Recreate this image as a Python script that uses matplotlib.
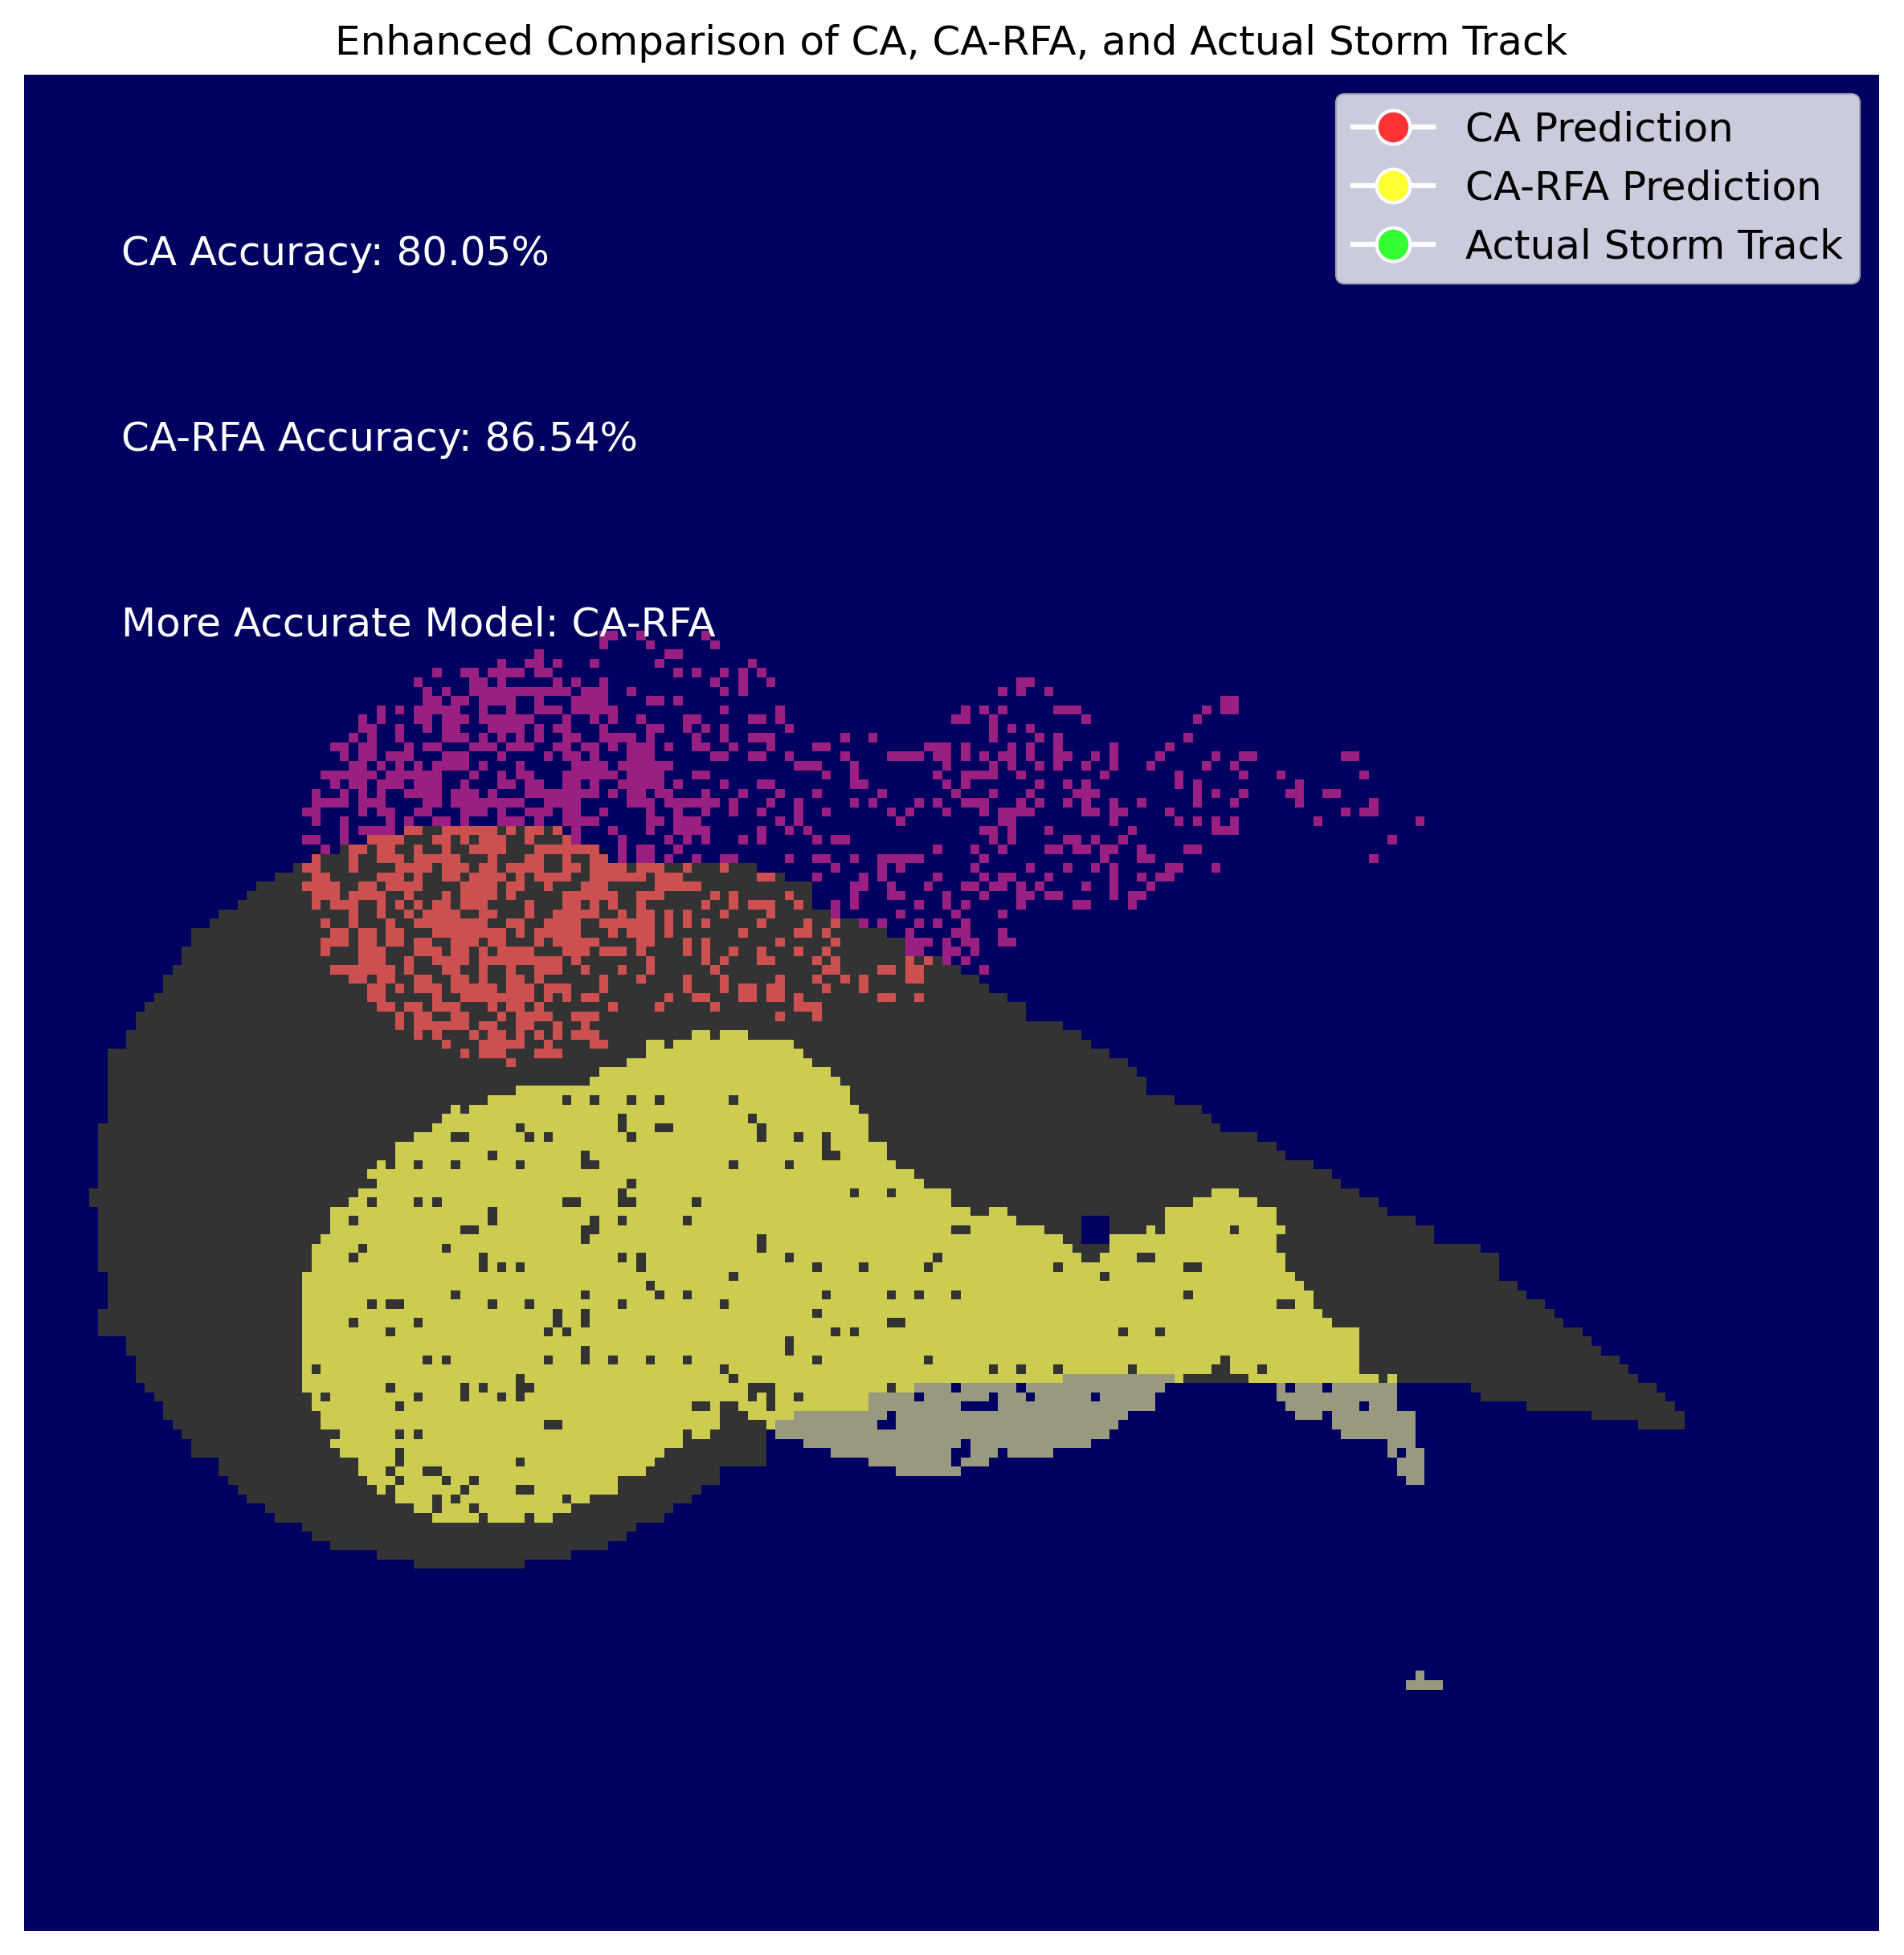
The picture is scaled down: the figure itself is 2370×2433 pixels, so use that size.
import numpy as np
import matplotlib
matplotlib.use("Agg")
import matplotlib.pyplot as plt
from matplotlib.colors import ListedColormap
from matplotlib.lines import Line2D

# grid size and class colours (navy, storm, CA over storm, RFA over storm, RFA only, CA only)
grid_size = 200
class_colors = ["#000060", "#333333", "#CC5050", "#CCCC50", "#999980", "#991F80"]

accuracy_labels = ["CA Accuracy: 80.05%", "CA-RFA Accuracy: 86.54%", "More Accurate Model: CA-RFA"]
legend_labels = ["CA Prediction", "CA-RFA Prediction", "Actual Storm Track"]
legend_colors = ["#FF3333", "#FFFF33", "#33FF33"]

# every dict below is row -> cells, a cell is a column or an inclusive (start, end) pair
storm_cells = {
    81: [(41, 57)], 82: [(37, 58)], 83: [(34, 61)], 84: [(31, 62)], 85: [(29, 78)], 86: [(27, 81)],
    87: [(25, 84)], 88: [(24, 84)], 89: [(23, 84)], 90: [(21, 86)], 91: [(20, 89)], 92: [(18, 92)],
    93: [(18, 94)], 94: [(17, 94)], 95: [(17, 98)], 96: [(16, 100)], 97: [(15, 102)], 98: [(15, 103)],
    99: [(14, 105)], 100: [(13, 107)], 101: [(12, 107)], 102: [(12, 111)], 103: [(11, 113)],
    104: [(11, 114)], 105: [(9, 116)], 106: [(9, 118)], 107: [(9, 119)], 108: [(9, 120)],
    109: [(9, 120)], 110: [(9, 123)], 111: [(9, 126)], 112: [(9, 127)], 113: [(8, 128)],
    114: [(8, 132)], 115: [(8, 134)], 116: [(8, 135)], 117: [(8, 138)], 118: [(8, 140)],
    119: [(8, 141)], 120: [(7, 143)], 121: [(7, 145)], 122: [(8, 146)], 123: [(8, 113), (117, 149)],
    124: [(8, 113), (117, 151)], 125: [(8, 113), (117, 151)], 126: [(8, 156)], 127: [(8, 158)],
    128: [(8, 158)], 129: [(9, 158)], 130: [(9, 160)], 131: [(9, 161)], 132: [(9, 163)],
    133: [(8, 164)], 134: [(8, 165)], 135: [(8, 167)], 136: [(11, 168)], 137: [(11, 169)],
    138: [(12, 171)], 139: [(12, 172)], 140: [(12, 173)], 141: [(13, 80), (156, 175)],
    142: [(14, 80), (157, 176)], 143: [(15, 80), (162, 177)], 144: [(15, 77), (169, 178)],
    145: [(16, 79), (174, 178)], 146: [(17, 79)], 147: [(18, 79)], 148: [(18, 79)], 149: [(21, 79)],
    150: [(21, 74)], 151: [(22, 74)], 152: [(23, 72)], 153: [(24, 71)], 154: [(26, 69)],
    155: [(27, 68)], 156: [(30, 65)], 157: [(31, 64)], 158: [(33, 62)], 159: [(38, 58)], 160: [(42, 53)],
}

rfa_cells = {
    103: [(72, 73), (75, 77)], 104: [(67, 68), (70, 82)], 105: [(67, 83)], 106: [(65, 84)],
    107: [(62, 86)], 108: [(61, 87)], 109: [(53, 88)], 110: [(50, 88)], 111: [46, (48, 89)],
    112: [(45, 90)], 113: [(44, 90)], 114: [(42, 90)], 115: [(40, 92)], 116: [(40, 92)],
    117: [38, (40, 93)], 118: [(37, 95)], 119: [(38, 96)], 120: [(36, 99), (128, 130)],
    121: [(35, 99), (126, 132)], 122: [(33, 101), (104, 105), (123, 134)], 123: [(33, 106), (123, 134)],
    124: [(33, 109), 121, (123, 135)], 125: [(32, 111), (117, 134)], 126: [(31, 112), (117, 134)],
    127: [(31, 113), (116, 135)], 128: [(31, 135)], 129: [(30, 136)], 130: [(30, 137)], 131: [(30, 138)],
    132: [(30, 138)], 133: [(30, 139)], 134: [(30, 140)], 135: [(30, 143)], 136: [(30, 143)],
    137: [(30, 143)], 138: [(30, 143)], 139: [(30, 143)], 140: [(30, 111), 124, (132, 145), 147],
    141: [(30, 95)], 142: [(31, 90)], 143: [(31, 90)], 144: [(32, 74), (78, 82)], 145: [(32, 74), 80],
    146: [(34, 70), (72, 73)], 147: [(33, 70)], 148: [(34, 68)], 149: [(36, 67)], 150: [(36, 66)],
    151: [(37, 63)], 152: [38, (40, 63)], 153: [(40, 60)], 154: [(42, 58)], 155: [(44, 56)],
}

# storm cells the CA-RFA model missed inside its own area
rfa_holes = {
    110: [58, 61, 65, 68, 76], 111: [47], 112: [64, 78], 113: [53, 64, (68, 69), 79],
    114: [(46, 47), 54, 56, 65, 79, 83, 86], 115: [86], 116: [50, 60, (86, 87)],
    117: [39, 42, 46, 53, (60, 61), 76, 82], 119: [65], 120: [64, 89, 93],
    121: [37, 42, 44, (58, 59), (64, 65), 72], 122: [50], 123: [35, 50, 61, 64, 71],
    124: [(47, 48), (60, 61), (100, 101), 130], 125: [60, 79], 126: [36, 45, 79],
    127: [35, 49, 64, 66, 82, 98, (120, 121)], 128: [49, 51, 53, 66, 85, 90, 97, 111, (125, 126)],
    129: [76, 116], 130: [67], 131: [46, 60, 68, 71, 86, 93, 96, 100, 125],
    132: [37, (39, 40), 50, 54, 64, 75, (135, 136)], 133: [57, 60, 85], 134: [35, 42, 57, 60, (93, 94)],
    135: [39, 56, 58, 87, 89, 118, 122], 136: [82], 137: [60, 82],
    138: [43, 45, 56, 60, 63, 67, 71, 85, 97, 129], 139: [31, 75, 104, 107, 111, 119, (128, 129), 133],
    140: [53, 76], 141: [39, 47, 49, (53, 54), (78, 80), 93], 142: [32, 42, 47, 51, 53, 78, 80, 83],
    143: [40, (72, 73), (75, 76), 80], 145: [(56, 57)], 146: [40, 42], 148: [40], 149: [40, 53],
    150: [39, (43, 44)], 151: [40, 45, 48], 152: [47, (53, 54)], 153: [44, 46, 58], 154: [44, 48],
    155: [49, 54],
}

rfa_only_cells = {
    140: [(112, 123)], 141: [(96, 122), (135, 147)], 142: [(91, 121), (135, 147)],
    143: [(91, 121), (136, 147)], 144: [(83, 118), (137, 139), (141, 149)],
    145: [(81, 117), (141, 149)], 146: [(81, 116), (142, 149)], 147: [(84, 114), (147, 149)],
    148: [(87, 110), (147, 150)], 149: [(91, 103), (148, 150)], 150: [(94, 100), (148, 150)],
    151: [(149, 150)], 172: [150], 173: [(149, 152)],
}

rfa_only_holes = {
    141: [100, 107, 136, 140], 142: [96, 104, 108, 115], 143: [(101, 104), 144], 144: [93],
    145: [(92, 93)], 147: [101], 148: [(100, 101), 105, 148], 149: [100],
}

ca_hit_west = {
    81: [(41, 42), (45, 50), 52, (54, 55), 57],
    82: [(37, 40), (44, 45), 47, (49, 51), 54, 58],
    83: [(35, 36), (38, 39), 42, 45, (48, 51), (55, 61)],
    84: [31, 35, (38, 40), (42, 46), 50, (54, 55), 58, (61, 62)],
    85: [(30, 31), 35, (40, 43), (45, 47), (49, 50), (52, 55), (58, 59), (61, 64), (66, 68), 71, 75],
    86: [(31, 32), (38, 40), 42, (45, 46), (48, 51), 53, (55, 58), (61, 66), (68, 70), (79, 80)],
    87: [(30, 33), (36, 37), (39, 42), (47, 50), (52, 53), 56, (60, 62), (68, 72)],
    88: [(31, 33), (35, 38), 41, 45, (47, 50), 52, (58, 63), (66, 68), 74, 76, 82],
    89: [31, (33, 35), 38, 40, 42, (44, 45), (47, 49), 54, (58, 59), 61, 63, 66, 73, 76, (78, 80), 83],
    90: [35, 38, 41, (43, 46), (49, 50), 54, (57, 61), 64, (66, 67), 69, 71, 75, 80],
    91: [32, 35, 39, (42, 49), (52, 53), (56, 59), (62, 67), 69, 71, 73, 79],
    92: [(33, 34), (36, 37), (39, 40), (44, 51), 53, (55, 59), 63, (65, 67), 69, 77, 83],
    93: [(32, 34), (36, 37), (39, 40), (42, 43), (46, 48), (50, 51), 55, (57, 61), (66, 67), 71, 73, 81],
    94: [32, (36, 38), (42, 44), (46, 47), 49, (51, 54), (58, 60), (62, 64), 66, 71, 73, 76, 79, 83],
    95: [(36, 38), 41, (44, 47), (49, 57), 59, 67, 73, 75, (79, 80)],
    96: [(33, 39), 41, (45, 46), 49, 52, (55, 57), 60, 64, 67, 74],
    97: [(35, 36), (38, 39), (42, 43), (46, 47), 49, (52, 53), 55, 62, 66, 71, 75, 81],
    98: [(37, 38), 40, (42, 44), (46, 50), (52, 54), (56, 58), 62, 71, 75, (77, 78), (80, 81)],
    99: [(37, 38), 44, (47, 54), 56, 58, (60, 61), 69, (72, 73), (77, 78), (80, 81), 83],
    100: [(38, 39), (41, 42), (44, 46), 50, (52, 53), 55, 63, 68, 74, 83],
    101: [40, (42, 43), (46, 47), 51, (53, 56), (59, 61), 81],
    102: [40, (42, 47), (49, 50), (53, 54), 57, 60],
    103: [42, 44, 48, (50, 51), 53, 55, 57, (59, 61)],
    104: [45, (49, 53), 56, (61, 62)],
    105: [47, (49, 51), (55, 57)],
    106: [52],
}

ca_hit_east = {
    91: [84, 87], 92: [84, 86], 93: [87], 94: [86], 95: [85, 87, 95, 97],
    96: [(86, 87), (92, 93), (95, 96)], 97: [85, 88, 90, (95, 96)], 98: [86, 90],
    99: [(92, 93), 96], 100: [(84, 85)], 101: [85],
}

ca_only_west = {
    60: [(62, 63), 66, 73], 61: [62, 67, 74], 62: [55, (69, 70)],
    63: [51, (54, 55), 57, 61, 68, 78],
    64: [44, (47, 48), (50, 53), (55, 56), 70, 72, 75, 77, 79],
    65: [42, (48, 49), 51, 57, 59, 62, 74, 77, 80],
    66: [43, 45, (48, 58), (60, 62), 65, 75, 77],
    67: [(43, 44), (46, 47), (49, 52), 55, (59, 62), (67, 68), 70],
    68: [38, 40, (42, 46), 49, 52, (55, 57), (59, 63), 75, 81],
    69: [36, 38, (42, 43), (45, 47), (49, 54), 58, 61, 63, 66, (71, 72), (78, 79), 81],
    70: [(36, 37), 40, 43, (45, 46), (50, 53), 55, (57, 58), 62, (67, 68), 71, 73, 75, 82],
    71: [35, 37, 40, (45, 47), 49, 51, 53, 55, (58, 59), (62, 65), 67, 72, 75, (78, 80)],
    72: [(33, 34), (36, 37), 41, (43, 44), (48, 50), (52, 54), (57, 58), (60, 61), 63, (65, 67), 69,
         (72, 73), 76, 80],
    73: [34, (36, 37), (39, 41), (45, 47), 51, 56, (58, 59), 61, (65, 67), (74, 75), (78, 79), 82],
    74: [(35, 36), 38, 40, 42, (44, 47), 49, 53, (59, 62), (64, 69), 83],
    75: [(32, 37), (39, 44), 48, 51, (53, 54), (58, 63), (65, 68), (72, 73)],
    76: [33, (35, 36), (38, 40), (42, 44), 47, (51, 52), (54, 55), (58, 59), 61, (64, 68), 70, 75, (79, 80)],
    77: [31, 34, 36, 38, (41, 44), (46, 48), 50, (54, 61), 63, (65, 66), (68, 69), 73, 77, 81],
    78: [(31, 34), (36, 38), (43, 44), (46, 53), (56, 59), (65, 67), (69, 74), 76, 80, 83],
    79: [(30, 31), 36, (38, 39), (42, 43), (47, 49), 51, (54, 56), (58, 59), 62, 67, 70, 73, 76, 79, 83],
    80: [31, 34, 39, 41, (44, 45), 47, (51, 53), 55, (58, 61), (67, 68), (70, 72), 81, 83],
    81: [34, (36, 39), 59, 63, 67, (70, 73), 79, 82],
    82: [(30, 31), 34, 59, 64, 69, 71, 73, 77, 79],
    83: [32, 64, (66, 67), 70],
    84: [64, (66, 67), 69, 72, (75, 76), 82],
}

ca_only_east = {
    65: [(107, 108)], 66: [105, 107, 110], 67: [(129, 130)],
    68: [101, 103, 105, (111, 113), 127, (129, 130)], 69: [(100, 101), 104, 114, 126],
    70: [104, 106, 108], 71: [88, 91, 104, 109, 111, 125],
    72: [(85, 86), (97, 99), 101, 106, 108, 111, 117, 123],
    73: [88, (93, 96), (98, 99), 101, 103, (105, 106), 108, (111, 112), 115, 117, 122, 128,
         (131, 132), (142, 143)],
    74: [(84, 85), 89, 99, 104, 106, 109, 111, 114, 117, 121, 127, 130],
    75: [86, 89, 98, (101, 104), 107, 116, 124, 131, 135, 144],
    76: [(89, 90), 99, 101, 109, 112, 114, 124, 126, 137],
    77: [85, 92, 100, 104, 108, (113, 115), 126, 128, 131, (136, 137), (140, 141)],
    78: [89, 91, 96, 98, (101, 103), 107, 109, 112, 114, 117, 120, 126, 130, 137, 145],
    79: [86, 93, 95, 99, 103, (105, 108), (114, 115), (117, 118), 123, 142, (144, 145)],
    80: [94, (105, 106), 117, 124, 126, 128, 130, 139, 150],
    81: [84, (103, 104), 106, 110, 119, (128, 130)],
    82: [85, (87, 88), 104, 106, (112, 113), 115, 118, 147],
    83: [98, 102, 105, (110, 111), (113, 114), (116, 117), 120, (125, 126)],
    84: [(85, 86), 89, (92, 96), 103, 116, (120, 121), 145],
    85: [87, 92, 94, 102, 108, 112, 115, 117, (123, 124), 128],
    86: [85, 90, 92, 98, 103, (105, 106), 110, 117, 120, (122, 123)],
    87: [(89, 90), 93, 97, (101, 102), (104, 105), 107, 109, 114, 117, 121],
    88: [89, (93, 94), 99, 103, (107, 108), (110, 111), 117, (119, 120)],
    89: [87, 89, 96, 99, 101, 107, (113, 114), 119],
    90: [87, 94, 100, 105], 91: [90, 92, 96, 98, 101], 92: [95, (100, 101), 105],
    93: [(95, 97), 99, (101, 102), (105, 106)], 94: [(95, 96), (99, 100), 102], 95: [99, 101], 96: [103],
}


def paint(grid, cells, value):
    for row, items in cells.items():
        for item in items:
            if isinstance(item, tuple):
                grid[row, item[0]:item[1] + 1] = value
            else:
                grid[row, item] = value


grid = np.zeros((grid_size, grid_size), dtype=int)
paint(grid, storm_cells, 1)
paint(grid, ca_only_west, 5)
paint(grid, ca_only_east, 5)
paint(grid, ca_hit_west, 2)
paint(grid, ca_hit_east, 2)
paint(grid, rfa_cells, 3)
paint(grid, rfa_holes, 1)
paint(grid, rfa_only_cells, 4)
paint(grid, rfa_only_holes, 0)

fig = plt.figure(figsize=(2370 / 300, 2433 / 300), dpi=300)
ax = fig.add_axes([30 / 2370, 30 / 2433, 2309 / 2370, 2310 / 2433])
ax.imshow(grid, cmap=ListedColormap(class_colors), vmin=0, vmax=5, interpolation="nearest", aspect="auto")
ax.set_title("Enhanced Comparison of CA, CA-RFA, and Actual Storm Track", fontsize=12)
ax.axis("off")

for i, label in enumerate(accuracy_labels):
    ax.text(10, 20 + 20 * i, label, color="white", fontsize=12)

handles = [
    Line2D([0], [0], color="white", marker="o", markerfacecolor=c, markeredgecolor="white",
           markersize=10, label=lab)
    for c, lab in zip(legend_colors, legend_labels)
]
ax.legend(handles=handles, loc="upper right", fontsize=12)

fig.savefig("out.png", dpi=300)
